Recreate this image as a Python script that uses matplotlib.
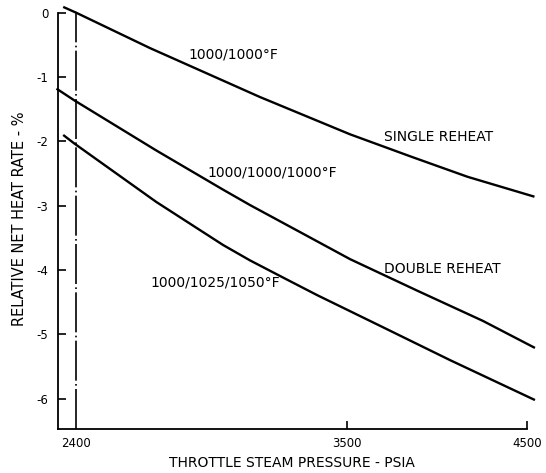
import matplotlib
matplotlib.use('Agg')
import matplotlib.pyplot as plt
from matplotlib.ticker import FixedLocator, NullLocator

# throttle steam pressure (psia) vs relative net heat rate (%)
single_p = [2357, 2400, 2660, 3100, 3515, 3830, 4140, 4545]
single_r = [0.09, 0.0, -0.55, -1.31, -1.89, -2.24, -2.55, -2.86]

double_p = [2335, 2393, 2683, 2945, 3058, 3306, 3515, 3860, 4230, 4548]
double_r = [-1.18, -1.36, -2.14, -2.75, -2.99, -3.46, -3.83, -4.32, -4.79, -5.21]

triple_p = [2357, 2393, 2683, 2945, 3058, 3215, 3358, 3681, 4041, 4548]
triple_r = [-1.90, -2.03, -2.94, -3.61, -3.85, -4.14, -4.39, -4.89, -5.40, -6.02]

x_ticks = [2400, 3500, 4500]
y_ticks = [0, -1, -2, -3, -4, -5, -6]
y_labels = ['0', '-1', '-2', '-3', '-4', '-5', '-6']

W, H = 546, 473
fig = plt.figure(figsize=(W / 100, H / 100), dpi=100)
ax = fig.add_axes([58 / W, 44 / H, (537 - 58) / W, (460.3 - 44) / H])

for p, r in [(single_p, single_r), (double_p, double_r), (triple_p, triple_r)]:
    ax.plot(p, r, color='black', lw=1.7, solid_capstyle='butt',
            solid_joinstyle='round', clip_on=False)

ax.axvline(2400, color='black', lw=1.2, ls=(0, (24, 2, 1, 2)))

ax.set_xscale('log')
ax.set_xlim(2340, 4561)
ax.set_ylim(-6.47, 0)

ax.xaxis.set_major_locator(FixedLocator(x_ticks))
ax.xaxis.set_minor_locator(NullLocator())
ax.set_xticklabels([str(t) for t in x_ticks])
ax.set_yticks(y_ticks)
ax.set_yticklabels(y_labels)
ax.tick_params(direction='in', length=6, width=1.2, labelsize=8.5)
ax.tick_params(axis='y', pad=7)
ax.tick_params(axis='x', pad=6)
ax.xaxis.get_major_ticks()[0].tick1line.set_visible(False)

for s in ['top', 'right']:
    ax.spines[s].set_visible(False)
for s in ['left', 'bottom']:
    ax.spines[s].set_linewidth(1.3)
ax.spines['bottom'].set_bounds(2340, 4500)

fig.text(20 / W, 1 - 219 / H, 'RELATIVE NET HEAT RATE - %', rotation=90,
         ha='center', va='center', fontsize=10.5)
fig.text(292 / W, 1 - 463 / H, 'THROTTLE STEAM PRESSURE - PSIA',
         ha='center', va='center', fontsize=10)

notes = [
    ('1000/1000°F', 233, 55),
    ('SINGLE REHEAT', 439, 137),
    ('1000/1000/1000°F', 272, 172),
    ('DOUBLE REHEAT', 442, 269),
    ('1000/1025/1050°F', 215, 283),
]
for txt, px, py in notes:
    fig.text(px / W, 1 - py / H, txt, ha='center', va='center', fontsize=10)

fig.savefig('out.png', dpi=100)
